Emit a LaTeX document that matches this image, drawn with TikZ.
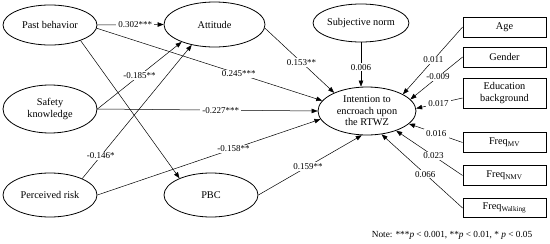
\documentclass[tikz,border=0pt]{standalone}
\usepackage{fontspec}
\setmainfont{Liberation Serif}
\usetikzlibrary{shapes.geometric,arrows.meta}
\begin{document}
\begin{tikzpicture}[x=1pt,y=-1pt,
  lat/.style={ellipse,draw,line width=0.8pt,inner sep=0pt,align=center,font=\fontsize{10.3}{11.5}\selectfont},
  obs/.style={rectangle,draw,line width=0.8pt,minimum width=83pt,inner sep=0pt,align=center,font=\fontsize{10.3}{11.5}\selectfont},
  pth/.style={line width=0.5pt,-{Triangle[length=6pt,width=4.5pt]}},
  coef/.style={fill=white,inner xsep=2.2pt,inner ysep=1.2pt,font=\fontsize{9}{9.5}\selectfont}]
\useasboundingbox (0,0) rectangle (550,244);
% latent constructs
\node[lat,minimum width=94pt,minimum height=40pt] (pb) at (50,25) {Past behavior};
\node[lat,minimum width=101pt,minimum height=45pt] (att) at (214.5,24.5) {Attitude};
\node[lat,minimum width=94pt,minimum height=48pt] (sk) at (50,109) {Safety\\knowledge};
\node[lat,minimum width=94pt,minimum height=44pt] (pr) at (50,195) {Perceived risk};
\node[lat,minimum width=94pt,minimum height=44pt] (pbc) at (211,195) {PBC};
\node[lat,minimum width=92pt,minimum height=38pt] (sn) at (361,23) {Subjective norm};
\node[lat,minimum width=98pt,minimum height=48pt] (int) at (367,111) {Intention to\\encroach upon\\the RTWZ};
% control variables
\node[obs,minimum height=20pt] (age) at (504.5,27) {Age};
\node[obs,minimum height=20pt] (gen) at (504.5,57) {Gender};
\node[obs,minimum height=30pt] (edu) at (504.5,93) {Education\\background};
\node[obs,minimum height=20pt] (fmv) at (504.5,142.5) {Freq\textsubscript{MV}};
\node[obs,minimum height=20pt] (fnmv) at (504.5,175.5) {Freq\textsubscript{NMV}};
\node[obs,minimum height=19pt] (fwk) at (504.5,208) {Freq\textsubscript{Walking}};
% note
\node[font=\fontsize{9.3}{10}\selectfont] (note) at (452,235) {Note: ***\textit{p} < 0.001, **\textit{p} < 0.01, * \textit{p} < 0.05};
% paths
\draw[pth] (pb.east) -- node[coef,pos=.57]{0.302***} (att.west);
\draw[pth] (pb.-4) -- node[coef,pos=.63]{0.245***} (int.167);
\draw[pth] (pb.-27) -- (pbc.152);
\draw[pth] (sk.east) -- node[coef,pos=.5]{-0.185**} (att.208);
\draw[pth] (sk.east) -- node[coef,pos=.56]{-0.227***} (int.west);
\draw[pth] (pr.27) -- node[coef,pos=.17]{-0.146*} (att.222);
\draw[pth] (pr.east) -- node[coef,pos=.61]{-0.158**} (int.190);
\draw[pth] (att.-4) -- node[coef,pos=.53]{0.153**} (int.151);
\draw[pth] (sn.south) -- node[coef,pos=.56]{0.006} (sn.south |- int.north);
\draw[pth] (pbc.east) -- node[coef,pos=.48]{0.159**} (int.258);
\draw[pth] (age.west) -- node[coef,pos=.49]{0.011} (int.25);
\draw[pth] (gen.west) -- node[coef,pos=.47]{-0.009} (int.15);
\draw[pth] ([yshift=-5pt]edu.west) -- node[coef,pos=.52]{0.017} (int.3);
\draw[pth] (fmv.west) -- node[coef,pos=.49]{0.016} (int.-17);
\draw[pth] (fnmv.west) -- node[coef,pos=.44]{0.023} (int.-34);
\draw[pth] (fwk.west) -- node[coef,pos=.46]{0.066} (int.-58);
\end{tikzpicture}
\end{document}
